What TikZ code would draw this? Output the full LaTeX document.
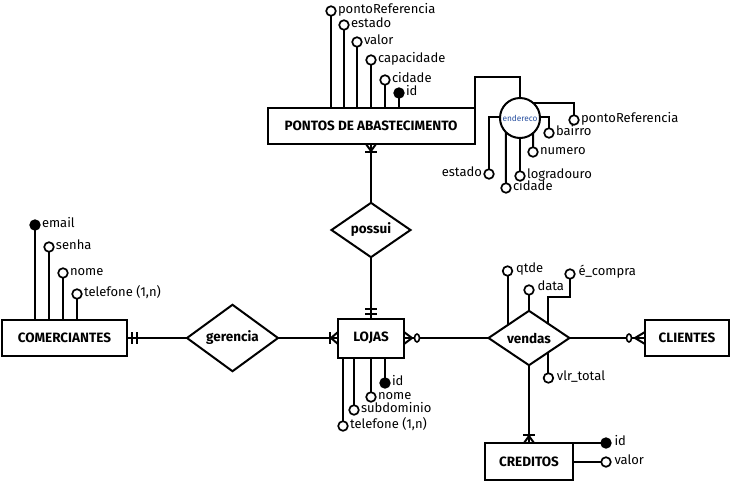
\documentclass[tikz,border=0pt]{standalone}
\usepackage{fontspec}
\setmainfont{Fira Sans}
\usetikzlibrary{shapes.geometric,calc}
\newcommand\erlbl{\fontsize{13}{15}\selectfont}
\newcommand\ertitle{\fontsize{13.5}{15}\selectfont\bfseries}
\definecolor{endblue}{RGB}{40,80,160}
\begin{document}
\begin{tikzpicture}[x=1pt,y=-1pt,line width=2pt,
  ent/.style={draw,rectangle,inner sep=0pt,outer sep=0pt,font=\ertitle},
  rel/.style={draw,diamond,inner sep=0pt,outer sep=0pt,font=\ertitle},
  attr/.style={draw,circle,fill=white,minimum size=9.6pt,inner sep=0pt,outer sep=0pt,line width=1.7pt},
  key/.style={attr,fill=black},
  lbl/.style={anchor=west,inner sep=1.2pt,font=\erlbl,text height=0.72em,text depth=0.2em},
  lbll/.style={lbl,anchor=east},
  zero/.style={draw,ellipse,fill=white,minimum width=5pt,minimum height=8pt,inner sep=0pt,outer sep=0pt,line width=1.6pt}
]
\useasboundingbox (0,0) rectangle (732,483);

% entities
\node[ent,minimum width=207pt,minimum height=36pt] (pontos) at (371,126) {PONTOS DE ABASTECIMENTO};
\node[ent,minimum width=125pt,minimum height=36pt] (com) at (64.5,338) {COMERCIANTES};
\node[ent,minimum width=66pt,minimum height=39pt] (lojas) at (371,338) {LOJAS};
\node[ent,minimum width=84pt,minimum height=36pt] (cli) at (687,338) {CLIENTES};
\node[ent,minimum width=88pt,minimum height=37pt] (cre) at (529,461.5) {CREDITOS};

% relationships
\node[rel,minimum width=91pt,minimum height=55pt] (ger) at (232.5,338) {gerencia};
\node[rel,minimum width=79pt,minimum height=46pt] (pos) at (371,230) {possui};
\node[rel,minimum width=81pt,minimum height=49pt] (ven) at (529,338) {vendas};

% endereco
\node[draw,circle,minimum size=40pt,inner sep=0pt,outer sep=0pt,fill=white,font=\fontsize{8.3}{9}\selectfont,text=endblue] (end) at (520,118) {endereco};

% PONTOS attributes
\node[attr] (pRef) at (331,11) {};
\node[attr] (pEst) at (344,25) {};
\node[attr] (pVal) at (357,42) {};
\node[attr] (pCap) at (371,60) {};
\node[attr] (pCid) at (385,80) {};
\node[key]  (pId)  at (399,93) {};
\node[lbl] at (pRef.east) {pontoReferencia};
\node[lbl] at (pEst.east) {estado};
\node[lbl] at (pVal.east) {valor};
\node[lbl] at (pCap.east) {capacidade};
\node[lbl] at (pCid.east) {cidade};
\node[lbl] at (pId.east) {id};
\foreach \a in {pRef,pEst,pVal,pCap,pCid,pId}
  \draw (\a.south) -- (\a.south |- pontos.north);

% endereco link and attributes
\draw (pontos.north east) -- ++(0,-31) -| (end.north);
\node[attr] (ePref) at (574,120) {};
\node[attr] (eBai) at (549,133) {};
\node[attr] (eNum) at (533,152) {};
\node[attr] (eLog) at (520,176) {};
\node[attr] (eCid) at (506,188) {};
\node[attr] (eEst) at (489,174) {};
\node[lbl] at (ePref.east) {pontoReferencia};
\node[lbl] at (eBai.east) {bairro};
\node[lbl] at (eNum.east) {numero};
\node[lbl] at (eLog.east) {logradouro};
\node[lbl] at (eCid.east) {cidade};
\node[lbll] at (eEst.west) {estado};
\draw (end.49) -| (ePref.north);
\draw (end.3) -| (eBai.north);
\draw (end.-49) -- (eNum.north);
\draw (end.south) -- (eLog.north);
\draw (end.225.6) -- (eCid.north);
\draw (end.177) -| (eEst.north);

% COMERCIANTES attributes
\node[key]  (cEm)  at (35,225) {};
\node[attr] (cSen) at (49,247) {};
\node[attr] (cNom) at (63,273) {};
\node[attr] (cTel) at (77,294) {};
\node[lbl] at (cEm.east) {email};
\node[lbl] at (cSen.east) {senha};
\node[lbl] at (cNom.east) {nome};
\node[lbl] at (cTel.east) {telefone (1,n)};
\foreach \a in {cEm,cSen,cNom,cTel}
  \draw (\a.south) -- (\a.south |- com.north);

% LOJAS attributes
\node[key]  (lId)  at (385,383) {};
\node[attr] (lNom) at (371,397) {};
\node[attr] (lSub) at (354,410) {};
\node[attr] (lTel) at (343,426) {};
\node[lbl] at (lId.east) {id};
\node[lbl] at (lNom.east) {nome};
\node[lbl] at (lSub.east) {subdominio};
\node[lbl] at (lTel.east) {telefone (1,n)};
\foreach \a in {lId,lNom,lSub,lTel}
  \draw (\a.north) -- (\a.north |- lojas.south);

% vendas attributes
\coordinate (vq) at ($(ven.north)!0.53!(ven.west)$);
\coordinate (ve) at ($(ven.north)!0.48!(ven.east)$);
\coordinate (vv) at ($(ven.south)!0.48!(ven.east)$);
\node[attr] (vQt) at (vq |- 0,271) {};
\node[attr] (vDa) at (ven.north |- 0,290) {};
\node[attr] (vEc) at (570,274) {};
\node[attr] (vVt) at (vv |- 0,378) {};
\node[lbl] at ($(vQt.east)+(1.5,-1)$) {qtde};
\node[lbl] at ($(vDa.east)+(1.5,-2)$) {data};
\node[lbl] at ($(vEc.east)+(1.5,-1.5)$) {é\_compra};
\node[lbl] at ($(vVt.east)+(1.5,0)$) {vlr\_total};
\draw (vq) -- (vQt.south);
\draw (ven.north) -- (vDa.south);
\draw (ve) -- (ve |- 0,297) -| (vEc.south);
\draw (vv) -- (vVt.north);

% CREDITOS attributes
\node[key]  (crId)  at (606,443) {};
\node[attr] (crVal) at (606,462) {};
\node[lbl] at ($(crId.east)+(1.5,0)$) {id};
\node[lbl] at ($(crVal.east)+(1.5,0)$) {valor};
\draw (cre.north east) -- (crId.west);
\draw (cre.east |- crVal) -- (crVal.west);

% relationship lines
\draw (com.east) -- (ger.west);
\draw ($(com.east)+(5,-6)$) -- ++(0,12);
\draw ($(com.east)+(10,-6)$) -- ++(0,12);
\draw (ger.east) -- (lojas.west);
\draw ($(lojas.west)+(0,-6)$) -- ($(lojas.west)+(-7,0)$) -- ($(lojas.west)+(0,6)$);
\draw ($(lojas.west)+(-8,-6)$) -- ++(0,12);

\draw (pontos.south) -- (pos.north);
\draw ($(pontos.south)+(-5,0)$) -- ($(pontos.south)+(0,7)$) -- ($(pontos.south)+(5,0)$);
\draw ($(pontos.south)+(-6,8)$) -- ++(12,0);
\draw (pos.south) -- (lojas.north);
\draw ($(lojas.north)+(-6,-5)$) -- ++(12,0);
\draw ($(lojas.north)+(-6,-10)$) -- ++(12,0);

\draw (lojas.east) -- (ven.west);
\draw ($(lojas.east)+(0,-6)$) -- ($(lojas.east)+(8,0)$) -- ($(lojas.east)+(0,6)$);
\node[zero] (z1) at ($(lojas.east)+(13,0)$) {};

\draw (ven.east) -- (cli.west);
\draw ($(cli.west)+(0,-6)$) -- ($(cli.west)+(-10,0)$) -- ($(cli.west)+(0,6)$);
\node[zero] (z2) at ($(cli.west)+(-16,0)$) {};

\draw (ven.south) -- (cre.north);
\draw ($(cre.north)+(-5,0)$) -- ($(cre.north)+(0,-7)$) -- ($(cre.north)+(5,0)$);
\draw ($(cre.north)+(-6,-8)$) -- ++(12,0);
\end{tikzpicture}
\end{document}
